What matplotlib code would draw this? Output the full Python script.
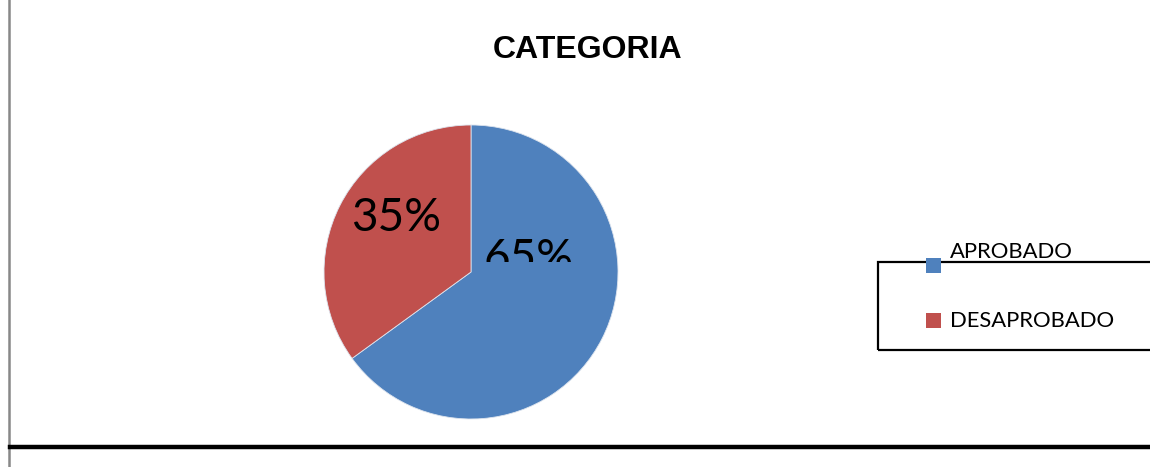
import matplotlib.pyplot as plt
from matplotlib.patches import Rectangle
from matplotlib.lines import Line2D
from matplotlib.transforms import Bbox, TransformedBbox

# data
categories = ["APROBADO", "DESAPROBADO"]
percent = [65, 35]
colors = ["#4F81BD", "#C0504D"]
title = "CATEGORIA"

W, H = 1150, 467
fig = plt.figure(figsize=(W / 100, H / 100), dpi=100)
fig.patch.set_facecolor("white")


def fx(px):
    return px / W


def fy(py):
    # py measured from top of the picture
    return 1 - py / H


# pie axes: centre (471, 272), radius 147 px
cx, cy, r = 471, 272, 147
ax = fig.add_axes([fx(cx - r), fy(cy + r), 2 * r / W, 2 * r / H])
wedges, _ = ax.pie(percent, colors=colors, startangle=90, counterclock=False,
                   wedgeprops=dict(edgecolor="#dde4ee", linewidth=0.6))
ax.set_xlim(-1, 1)
ax.set_ylim(-1, 1)
ax.set_aspect("auto")
ax.axis("off")

label_font = ["Lato", "DejaVu Sans"]
# label positions in pie units (as placed in the original)
label_pos = [(0.39, 0.09), (-0.51, 0.37)]
clip_box = TransformedBbox(Bbox([[0, fy(262)], [1, 1]]), fig.transFigure)
for i, (v, (lx, ly)) in enumerate(zip(percent, label_pos)):
    t = ax.text(lx, ly, "%d%%" % v, ha="center", va="center", fontsize=33,
                family=label_font, color="black")
    if i == 0:
        # the big label is cut off in the original
        t.set_clip_box(clip_box)
        t.set_clip_on(True)

fig.text(fx(588), fy(50), title, ha="center", va="center", fontsize=23,
         fontweight="bold", family="Liberation Sans")

# legend, drawn as in the original (box shifted under the entries)
fig.add_artist(Rectangle((fx(878), fy(350)), fx(400), fy(262) - fy(350),
                         transform=fig.transFigure, facecolor="none",
                         edgecolor="black", linewidth=1.6))
entry_y = [252, 321]
marker_y = [266, 321]
for name, c, ty, my in zip(categories, colors, entry_y, marker_y):
    fig.add_artist(Rectangle((fx(926), fy(my + 7)), fx(15), fy(my - 8) - fy(my + 7),
                             transform=fig.transFigure, facecolor=c, edgecolor="none"))
    fig.text(fx(950), fy(ty), name, ha="left", va="center", fontsize=15.8,
             family=label_font)

# frame lines around the chart
fig.add_artist(Line2D([fx(9), fx(9)], [0, 1], transform=fig.transFigure,
                      color="#888888", linewidth=1.8))
fig.add_artist(Line2D([fx(10), 1], [fy(447), fy(447)], transform=fig.transFigure,
                      color="black", linewidth=3.2))

fig.savefig("out.png", dpi=100, facecolor="white")
